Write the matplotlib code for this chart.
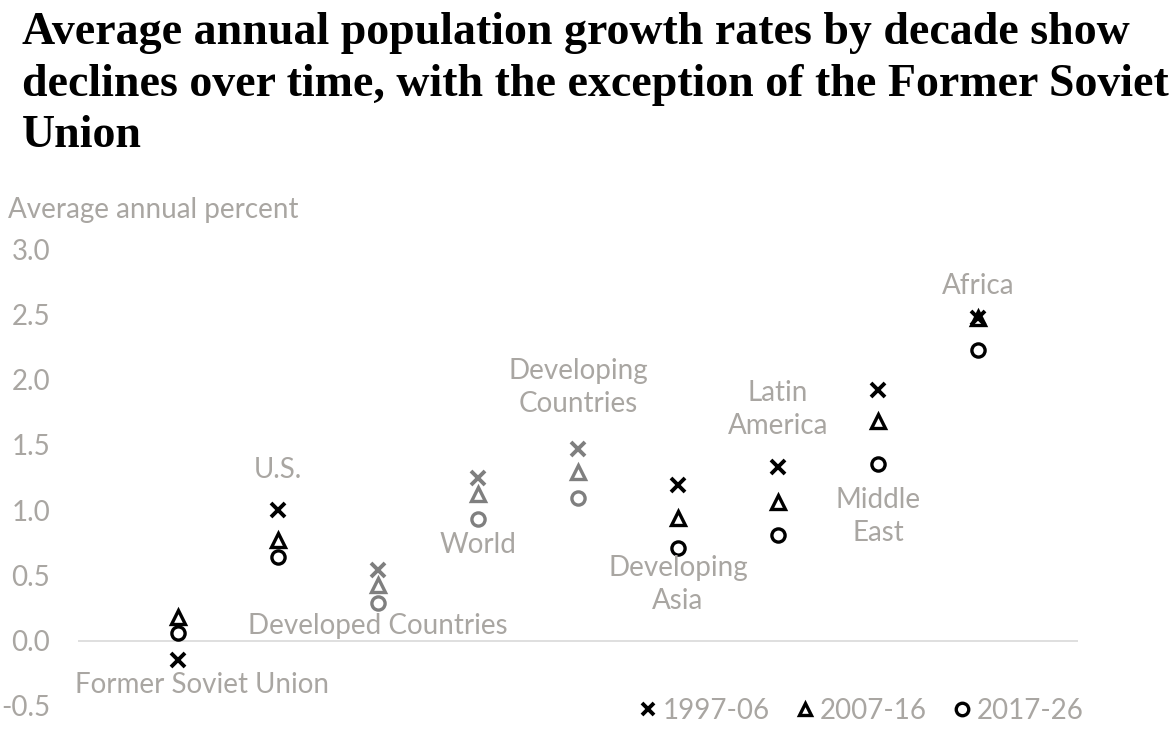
import matplotlib
matplotlib.use("Agg")
import matplotlib.pyplot as plt
from matplotlib.lines import Line2D

categories = ["Former Soviet Union", "U.S.", "Developed Countries", "World",
              "Developing\nCountries", "Developing\nAsia", "Latin\nAmerica",
              "Middle\nEast", "Africa"]
gray_cats = ["Developed Countries", "World", "Developing\nCountries"]
s1997 = [-0.15, 1.00, 0.54, 1.25, 1.47, 1.19, 1.33, 1.92, 2.47]
s2007 = [0.18, 0.77, 0.43, 1.12, 1.29, 0.94, 1.06, 1.68, 2.47]
s2017 = [0.06, 0.64, 0.29, 0.93, 1.09, 0.71, 0.81, 1.35, 2.23]
label_y = [-0.34, 1.31, 0.115, 0.73, 1.94, 0.43, 1.77, 0.95, 2.72]
label_dx = [0.24, 0, 0, 0, 0, 0, 0, 0, 0]
series_names = ["1997-06", "2007-16", "2017-26"]
yticks = [3.0, 2.5, 2.0, 1.5, 1.0, 0.5, 0.0, -0.5]

TXT = "#a9a6a2"
GRAY = "#7f7f7f"
FS = 20
plt.rcParams['font.family'] = ['Lato', 'DejaVu Sans']

W, H = 1172, 735
fig = plt.figure(figsize=(W/100, H/100), dpi=100)
ax = fig.add_axes([78/W, (H-706)/H, 1000/W, (706-249)/H])
ax.set_xlim(-1, 9)
ax.set_ylim(-0.5, 3.0)

for s in ax.spines.values():
    s.set_visible(False)
ax.set_xticks([])
ax.set_yticks(yticks)
ax.set_yticklabels([f"{v:.1f}" for v in yticks])
ax.tick_params(axis='y', length=0, labelsize=FS, labelcolor=TXT, pad=20)
ax.axhline(0, color="#d9d9d9", lw=1.2, zorder=0)

markers = [('x', s1997), ('^', s2007), ('o', s2017)]
for i, cat in enumerate(categories):
    col = GRAY if cat in gray_cats else "black"
    for m, vals in markers:
        if m == 'x':
            ax.plot(i, vals[i], marker='x', ms=9.5, mew=2.8, color=col, ls='none')
        else:
            ax.plot(i, vals[i], marker=m, ms=9.5 if m == '^' else 9.5, mew=2.4,
                    mfc='none', mec=col, ls='none')
    ax.text(i + label_dx[i], label_y[i], cat, ha='center', va='center',
            fontsize=FS, color=TXT, linespacing=1.33)

fig.text(8/W, 1 - 210/H, "Average annual percent", fontsize=FS, color=TXT,
         ha='left', va='center')

fig.text(22/W, 1 - 12/H,
         "Average annual population growth rates by decade show\n"
         "declines over time, with the exception of the Former Soviet\nUnion",
         fontsize=33, fontweight='bold', family='Liberation Serif',
         ha='left', va='top', linespacing=1.3, color='black')

handles = [
    Line2D([], [], marker='x', ms=9, mew=2.8, color='black', ls='none'),
    Line2D([], [], marker='^', ms=9, mew=2.4, mfc='none', mec='black', ls='none'),
    Line2D([], [], marker='o', ms=9, mew=2.4, mfc='none', mec='black', ls='none'),
]
leg = fig.legend(handles, series_names, loc='center right',
                 bbox_to_anchor=(1098/W, 1 - 711/H), ncol=3, frameon=False,
                 fontsize=FS, handlelength=0.6, handletextpad=0.25,
                 columnspacing=0.95, borderpad=0)
for t in leg.get_texts():
    t.set_color(TXT)

fig.savefig("out.png", dpi=100)
